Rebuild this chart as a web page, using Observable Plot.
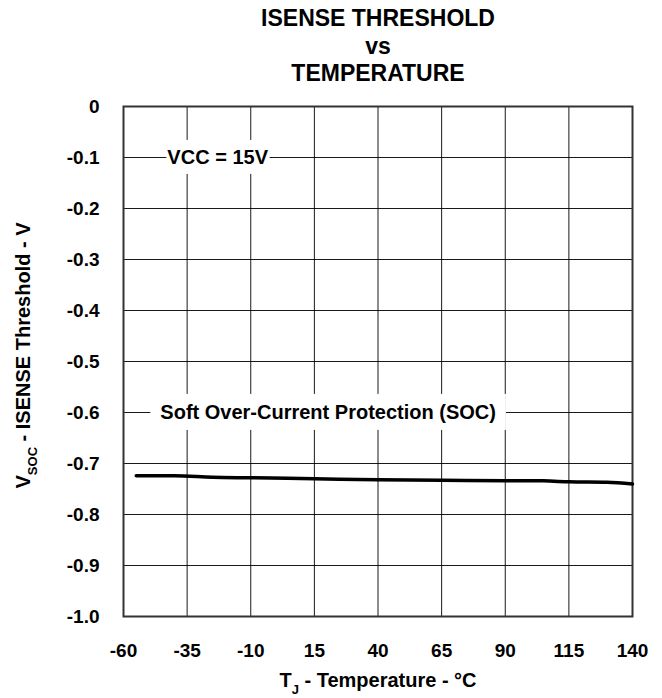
<!DOCTYPE html>
<html><head><meta charset="utf-8">
<script src="https://cdn.jsdelivr.net/npm/d3@7"></script>
<script src="https://cdn.jsdelivr.net/npm/@observablehq/plot@0.6"></script>
<style>
body{margin:0;background:#fff;}
</style>
</head><body>
<div id="chart"></div>
<script>
// ---- data ----
const temperature = [-55, -40, -25, -10, 15, 40, 65, 90, 105, 115, 130, 140];
const threshold   = [-0.724, -0.724, -0.727, -0.728, -0.730, -0.732, -0.733, -0.734, -0.734, -0.736, -0.737, -0.740];
const xTicks = [-60, -35, -10, 15, 40, 65, 90, 115, 140];
const xTickLabels = ["-60", "-35", "-10", "15", "40", "65", "90", "115", "140"];
const yTicks = [0, -0.1, -0.2, -0.3, -0.4, -0.5, -0.6, -0.7, -0.8, -0.9, -1.0];
const yTickLabels = ["0", "-0.1", "-0.2", "-0.3", "-0.4", "-0.5", "-0.6", "-0.7", "-0.8", "-0.9", "-1.0"];
const titleLines = ["ISENSE THRESHOLD", "vs", "TEMPERATURE"];
const annotationLabels = ["VCC = 15V", "Soft Over-Current Protection (SOC)"];
const annotationTemp = [-23, 20.4];
const annotationVolt = [-0.1, -0.6];
const xLabelParts = [["T", false], ["J", true], [" - Temperature - °C", false]];
const yLabelParts = [["V", false], ["SOC", true], [" - ISENSE Threshold - V", false]];

// ---- build ----
const ns = "http://www.w3.org/2000/svg";
const font = "'Liberation Sans', Arial, Helvetica, sans-serif";
const curve = temperature.map((t, i) => ({t, v: threshold[i]}));
const annots = annotationLabels.map((label, i) => ({label, x: annotationTemp[i], y: annotationVolt[i]}));
const boxPad = [[1, 6], [10, 7]];

function subscriptRender(parts, subSize, shift) {
  return (index, scales, values, dims, ctx, next) => {
    const g = next(index, scales, values, dims, ctx);
    const t = g.querySelector("text");
    t.textContent = "";
    let prevSub = false;
    parts.forEach(([s, sub]) => {
      const ts = document.createElementNS(ns, "tspan");
      ts.textContent = s;
      if (sub) { ts.setAttribute("font-size", subSize); ts.setAttribute("dy", shift); }
      else if (prevSub) { ts.setAttribute("dy", -shift); }
      prevSub = sub;
      t.appendChild(ts);
    });
    return g;
  };
}

const chart = Plot.plot({
  width: 662, height: 698,
  marginLeft: 123, marginRight: 30, marginTop: 106, marginBottom: 82,
  style: {fontFamily: font, fontWeight: "bold", background: "#fff", color: "#000", overflow: "visible"},
  x: {domain: [-60, 140]},
  y: {domain: [-1, 0]},
  marks: [
    Plot.ruleX(xTicks, {stroke: "#000", strokeWidth: 1, strokeOpacity: 0.9}),
    Plot.ruleY(yTicks, {stroke: "#000", strokeWidth: 1, strokeOpacity: 0.9}),
    Plot.frame({stroke: "#333", strokeWidth: 2}),
    Plot.text(annots, {
      x: "x", y: "y", text: "label", fontSize: 20, fill: "#000",
      render: (index, scales, values, dims, ctx, next) => {
        const g = next(index, scales, values, dims, ctx);
        g.setAttribute("class", "annot");
        return g;
      }
    }),
    Plot.line(curve, {x: "t", y: "v", stroke: "#000", strokeWidth: 3.5, curve: "monotone-x"}),
    Plot.axisX({ticks: xTicks, tickSize: 0, tickPadding: 27, fontSize: 19, label: null,
      tickFormat: d => xTickLabels[xTicks.indexOf(d)]}),
    Plot.axisY({ticks: yTicks, tickSize: 0, tickPadding: 24, fontSize: 19, label: null,
      tickFormat: d => yTickLabels[yTicks.indexOf(d)]}),
    Plot.text([titleLines.join("\n")], {
      frameAnchor: "top", lineAnchor: "top", textAnchor: "middle", dy: -100, fontSize: 23, lineHeight: 1.2, fill: "#000"
    }),
    Plot.text(["x"], {
      frameAnchor: "bottom", lineAnchor: "middle", textAnchor: "middle", dy: 64, fontSize: 20, fill: "#000",
      render: subscriptRender(xLabelParts, 13, 7)
    }),
    Plot.text(["y"], {
      frameAnchor: "left", lineAnchor: "middle", textAnchor: "middle", rotate: -90, dx: -100, dy: -6, fontSize: 20, fill: "#000",
      render: subscriptRender(yLabelParts, 13, 7)
    })
  ]
});

document.getElementById("chart").append(chart);

// white boxes behind annotations
chart.querySelectorAll("g.annot text").forEach((t, i) => {
  const b = t.getBBox();
  const [px, py] = boxPad[i] || [4, 6];
  const r = document.createElementNS(ns, "rect");
  r.setAttribute("x", b.x - px);
  r.setAttribute("y", b.y - py);
  r.setAttribute("width", b.width + 2 * px);
  r.setAttribute("height", b.height + 2 * py);
  r.setAttribute("fill", "#fff");
  const tr = t.getAttribute("transform");
  if (tr) r.setAttribute("transform", tr);
  t.parentNode.insertBefore(r, t);
});
</script>
</body></html>
